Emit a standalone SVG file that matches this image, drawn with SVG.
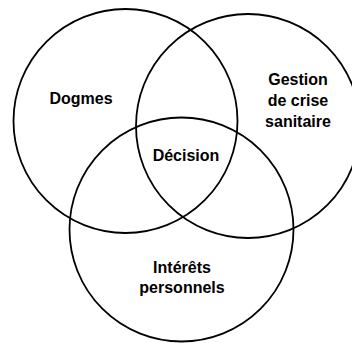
<svg xmlns="http://www.w3.org/2000/svg" width="352" height="343" viewBox="0 0 352 343">
<style>
.c{fill:none;stroke:#000;stroke-width:1.8}
.t{font-family:"Liberation Sans",Arial,sans-serif;font-weight:bold;font-size:16px;fill:#000;text-anchor:middle}
</style>
<rect width="352" height="343" fill="#fff"/>
<g id="dogmes"><circle class="c" cx="125.5" cy="121" r="112"/><text class="t" x="81" y="104">Dogmes</text></g>
<g id="gestion"><circle class="c" cx="248" cy="126" r="112"/><text class="t" x="298" y="85">Gestion</text><text class="t" x="298" y="106">de crise</text><text class="t" x="298" y="127">sanitaire</text></g>
<g id="interets"><circle class="c" cx="181.5" cy="229.5" r="112"/><text class="t" x="182" y="273">Intérêts</text><text class="t" x="182" y="293">personnels</text></g>
<g id="decision"><text class="t" x="186" y="161">Décision</text></g>
<g id="connectors"></g>
</svg>
